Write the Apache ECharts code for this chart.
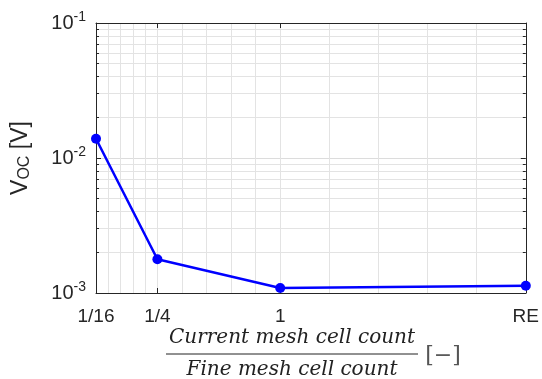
<!DOCTYPE html>
<html>
<head>
<meta charset="utf-8">
<script src="https://cdn.jsdelivr.net/npm/echarts@6/dist/echarts.min.js"></script>
<style>
  html, body { margin: 0; padding: 0; background: #fff; }
  #chart { width: 542px; height: 379px; }
</style>
</head>
<body>
<div id="chart"></div>
<script>
// x position = linear refinement ratio, labels give the cell count ratio
var xValues = [0.25, 0.5, 1, 2];
var xLabels = ['1/16', '1/4', '1', 'RE'];
var vocValues = [0.0139, 0.00178, 0.00109, 0.00113];

var xGridValues = [0.3, 0.35, 0.4, 0.45, 0.5, 0.6, 0.7, 0.8, 0.9, 1, 1.2, 1.4, 1.6, 1.8];
var yMajorValues = [0.001, 0.01, 0.1];
var yMinorValues = [0.002, 0.003, 0.004, 0.005, 0.006, 0.007, 0.008, 0.009,
                    0.02, 0.03, 0.04, 0.05, 0.06, 0.07, 0.08, 0.09];

var dom = document.getElementById('chart');
var myChart = echarts.init(dom, null, { renderer: 'canvas' });

var axisColor = '#262626';
var gridColor = '#e3e3e3';

function xLabel(v) {
    var i = xValues.indexOf(v);
    return i >= 0 ? xLabels[i] : '';
}

function yLabel(v) {
    return '{b|10}{s|' + Math.round(Math.log10(v)) + '}';
}

var seriesData = xValues.map(function (x, i) { return [x, vocValues[i]]; });

var option = {
    animation: false,
    backgroundColor: '#fff',
    grid: { left: 96, right: 16, top: 23, bottom: 86 },
    xAxis: [
        {
            type: 'value', position: 'bottom', min: 0.25, max: 2,
            axisLine: { show: true, lineStyle: { color: axisColor, width: 1 } },
            axisTick: { show: true, inside: true, length: 5, customValues: xValues,
                        lineStyle: { color: axisColor } },
            axisLabel: { customValues: xValues, formatter: xLabel, fontSize: 19,
                         color: axisColor, margin: 14, fontFamily: 'Liberation Sans' },
            splitLine: { show: false }
        },
        {
            type: 'value', position: 'top', min: 0.25, max: 2,
            axisLine: { show: true, lineStyle: { color: axisColor, width: 1 } },
            axisTick: { show: true, inside: true, length: 5, customValues: xValues,
                        lineStyle: { color: axisColor } },
            axisLabel: { show: false },
            splitLine: { show: false }
        },
        {
            type: 'value', position: 'bottom', min: 0.25, max: 2,
            axisLine: { show: false },
            axisTick: { show: false, customValues: xGridValues },
            axisLabel: { show: false },
            splitLine: { show: true, lineStyle: { color: gridColor, width: 1 } }
        }
    ],
    yAxis: [
        {
            type: 'log', logBase: 10, position: 'left', min: 0.001, max: 0.1,
            axisLine: { show: true, lineStyle: { color: axisColor, width: 1 } },
            axisTick: { show: true, inside: true, length: 5, customValues: yMajorValues,
                        lineStyle: { color: axisColor } },
            axisLabel: {
                customValues: yMajorValues, formatter: yLabel, margin: 10,
                rich: {
                    b: { fontSize: 20, color: axisColor, fontFamily: 'Liberation Sans' },
                    s: { fontSize: 14, color: axisColor, fontFamily: 'Liberation Sans',
                         padding: [0, 0, 12, 0] }
                }
            },
            splitLine: { show: true, lineStyle: { color: '#dcdcdc' } },
            name: '{v|V}{sub|OC}{v| [V]}',
            nameLocation: 'middle',
            nameRotate: 90,
            nameGap: 63,
            nameTextStyle: {
                rich: {
                    v: { fontSize: 23, color: axisColor, fontFamily: 'Liberation Sans' },
                    sub: { fontSize: 16, color: axisColor, fontFamily: 'Liberation Sans',
                           padding: [9, 0, 0, 0] }
                }
            }
        },
        {
            type: 'log', logBase: 10, position: 'right', min: 0.001, max: 0.1,
            axisLine: { show: true, lineStyle: { color: axisColor, width: 1 } },
            axisTick: { show: true, inside: true, length: 5, customValues: yMajorValues,
                        lineStyle: { color: axisColor } },
            axisLabel: { show: false },
            splitLine: { show: false }
        },
        {
            type: 'log', logBase: 10, position: 'left', min: 0.001, max: 0.1,
            axisLine: { show: false },
            axisTick: { show: true, inside: true, length: 3, customValues: yMinorValues,
                        lineStyle: { color: axisColor } },
            axisLabel: { show: false },
            splitLine: { show: true, lineStyle: { color: gridColor } }
        },
        {
            type: 'log', logBase: 10, position: 'right', min: 0.001, max: 0.1,
            axisLine: { show: false },
            axisTick: { show: true, inside: true, length: 3, customValues: yMinorValues,
                        lineStyle: { color: axisColor } },
            axisLabel: { show: false },
            splitLine: { show: false }
        }
    ],
    graphic: [
        {
            type: 'text', x: 292, y: 338,
            style: { text: 'Current mesh cell count', font: 'italic 20px "DejaVu Serif"',
                     fill: '#222', align: 'center', verticalAlign: 'middle' }
        },
        {
            type: 'line', shape: { x1: 166, y1: 354, x2: 418, y2: 354 },
            style: { stroke: '#222', lineWidth: 1 }
        },
        {
            type: 'text', x: 292, y: 370,
            style: { text: 'Fine mesh cell count', font: 'italic 20px "DejaVu Serif"',
                     fill: '#222', align: 'center', verticalAlign: 'middle' }
        },
        {
            type: 'text', x: 443, y: 356,
            style: { text: '[\u2212]', font: '22px "DejaVu Serif"', fill: '#555',
                     align: 'center', verticalAlign: 'middle' }
        }
    ],
    series: [
        {
            type: 'line',
            xAxisIndex: 0,
            yAxisIndex: 0,
            data: seriesData,
            symbol: 'circle',
            symbolSize: 10,
            lineStyle: { color: '#0000ff', width: 2.5 },
            itemStyle: { color: '#0000ff' },
            clip: false,
            z: 10
        }
    ]
};

myChart.setOption(option);
</script>
</body>
</html>
